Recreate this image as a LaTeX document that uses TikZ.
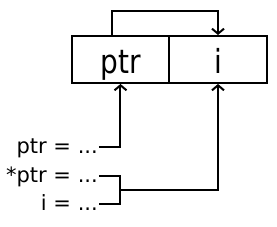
\documentclass[tikz,border=0pt]{standalone}
\usepackage{fontspec}
\setmainfont{DejaVu Sans}
\usetikzlibrary{arrows.meta}
\tikzset{
  cell/.style={draw, line width=2pt, minimum height=47pt, inner sep=0pt,
               font=\fontsize{28}{32}\selectfont, text height=27.6pt, text depth=0pt},
  lbl/.style={inner sep=0pt, inner xsep=1pt, anchor=east,
              font=\fontsize{21}{24}\selectfont, text height=14pt, text depth=0pt},
  wire/.style={line width=2pt},
  link/.style={wire, -{Straight Barb[length=5pt, width=12pt]}},
}
\newcommand{\tall}[1]{\scalebox{1}[1.18]{#1}}
\begin{document}
\begin{tikzpicture}[x=1pt, y=-1pt]
    \useasboundingbox (0,0) rectangle (277,227);
    % memory cells
    \node[cell, minimum width=97pt] (cellptr) at (120.5,59.5) {\tall{ptr}};
    \node[cell, minimum width=98pt] (celli) at (218,59.5) {\tall{i}};
    % ptr points to i
    \coordinate (loopl) at (112,11);
    \coordinate (loopr) at (218,11);
    \draw[link] (loopl |- cellptr.north) -- (loopl) -- (loopr) -- (celli.north);
    % assignments
    \node[lbl] (lptr) at (99,147) {ptr = ...};
    \node[lbl] (lstar) at (99,176) {*ptr = ...};
    \node[lbl] (li) at (99,204) {i = ...};
    \draw[link] (lptr.east) -| (cellptr.south);
    \coordinate (brtop) at (120,176);
    \coordinate (brbot) at (120,204);
    \coordinate (brmid) at (120,190);
    \draw[wire] (lstar.east) -- (brtop) -- (brbot) -- (li.east);
    \draw[link] (brmid) -| (celli.south);
\end{tikzpicture}
\end{document}
